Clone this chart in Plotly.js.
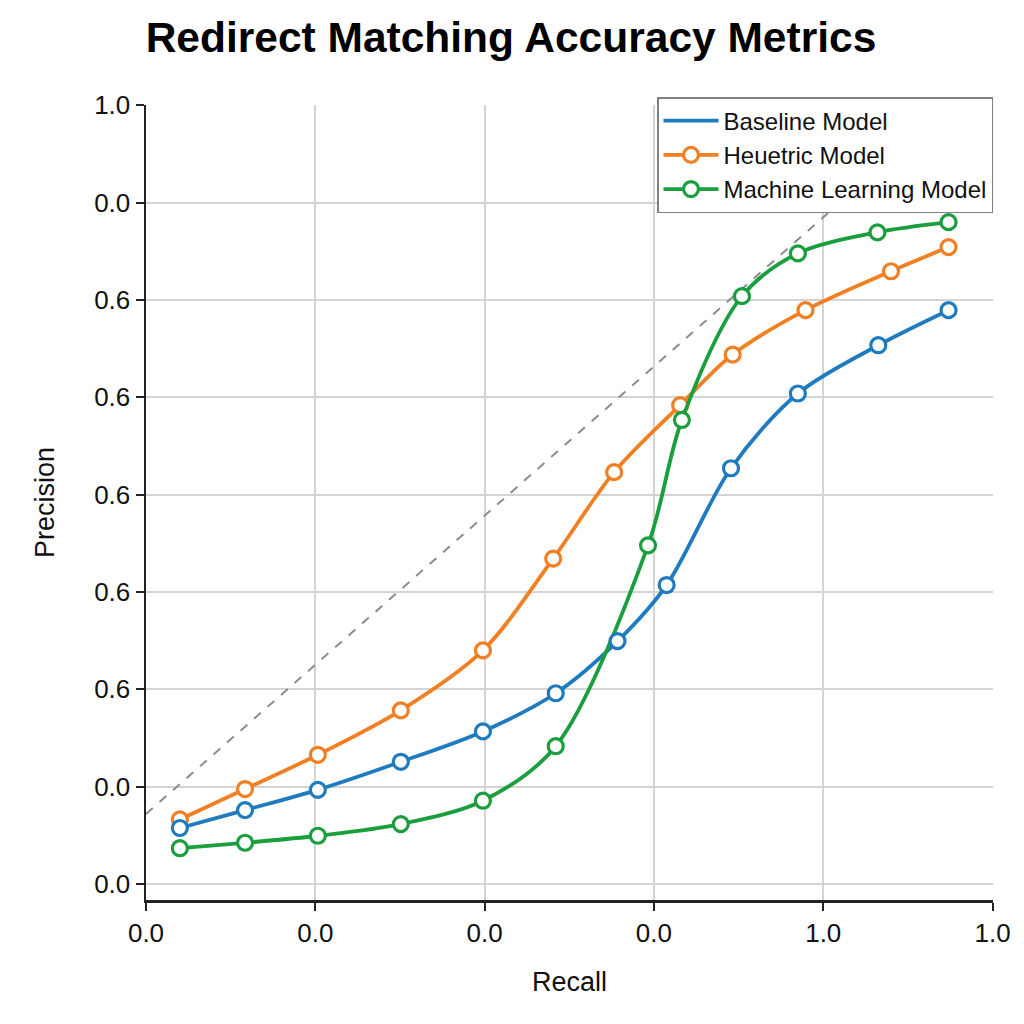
<!DOCTYPE html>
<html>
<head>
<meta charset="utf-8">
<script src="https://cdn.plot.ly/plotly-3.0.1.min.js"></script>
<style>
  html, body { margin: 0; padding: 0; background: #ffffff; }
  #chart { width: 1024px; height: 1024px; }
</style>
</head>
<body>
<div id="chart"></div>
<script>
// Precision / recall points per model
const baselineRecall    = [0.040, 0.117, 0.203, 0.301, 0.398, 0.484, 0.557, 0.615, 0.691, 0.770, 0.865, 0.948];
const baselinePrecision = [0.072, 0.095, 0.121, 0.157, 0.196, 0.245, 0.312, 0.384, 0.534, 0.630, 0.692, 0.737];

const heuristicRecall    = [0.040, 0.117, 0.203, 0.301, 0.398, 0.481, 0.553, 0.631, 0.693, 0.779, 0.880, 0.948];
const heuristicPrecision = [0.083, 0.122, 0.166, 0.223, 0.300, 0.418, 0.529, 0.615, 0.680, 0.737, 0.787, 0.818];

const mlRecall    = [0.040, 0.117, 0.203, 0.301, 0.398, 0.484, 0.593, 0.633, 0.704, 0.770, 0.864, 0.948];
const mlPrecision = [0.046, 0.053, 0.062, 0.077, 0.107, 0.177, 0.435, 0.596, 0.755, 0.810, 0.837, 0.850];

// Dashed reference diagonal
const refRecall    = [0.0, 0.95];
const refPrecision = [0.09, 1.0];

// Tick positions and their printed labels
const xTickVals  = [0.0, 0.2, 0.4, 0.6, 0.8, 1.0];
const xTickText  = ["0.0", "0.0", "0.0", "0.0", "1.0", "1.0"];
const yTickVals  = [0.0, 0.125, 0.25, 0.375, 0.5, 0.625, 0.75, 0.875, 1.0];
const yTickText  = ["0.0", "0.0", "0.6", "0.6", "0.6", "0.6", "0.6", "0.0", "1.0"];

const BLUE = "#1f7bbf";
const ORANGE = "#f27f22";
const GREEN = "#1b9e3e";
const FONT = "Liberation Sans, Arial, Helvetica, sans-serif";

const markerStyle = (c) => ({
  symbol: "circle",
  size: 15,
  color: "#ffffff",
  line: { color: c, width: 3.2 }
});

const traces = [
  {
    x: refRecall, y: refPrecision,
    mode: "lines",
    line: { color: "#8c8c8c", width: 2, dash: "dash" },
    showlegend: false, hoverinfo: "skip"
  },
  {
    x: baselineRecall, y: baselinePrecision,
    name: "Baseline Model",
    mode: "lines",
    line: { color: BLUE, width: 3.8, shape: "spline", smoothing: 0.9 }
  },
  {
    x: heuristicRecall, y: heuristicPrecision,
    name: "Heuetric Model",
    mode: "lines+markers",
    line: { color: ORANGE, width: 3.8, shape: "spline", smoothing: 0.9 },
    marker: markerStyle(ORANGE)
  },
  {
    x: mlRecall, y: mlPrecision,
    name: "Machine Learning Model",
    mode: "lines+markers",
    line: { color: GREEN, width: 3.8, shape: "spline", smoothing: 0.9 },
    marker: markerStyle(GREEN)
  },
  {
    x: baselineRecall, y: baselinePrecision,
    mode: "markers",
    marker: markerStyle(BLUE),
    showlegend: false
  }
];

const layout = {
  width: 1024,
  height: 1024,
  paper_bgcolor: "#ffffff",
  plot_bgcolor: "#ffffff",
  margin: { l: 146, r: 31, t: 105, b: 124 },
  font: { family: FONT, color: "#111111" },
  title: {
    text: "<b>Redirect Matching Accuracy Metrics</b>",
    font: { family: FONT, size: 42.5, color: "#000000" },
    x: 0.499, xref: "container", xanchor: "center",
    y: 0.964, yref: "container", yanchor: "middle"
  },
  xaxis: {
    range: [0, 1.0005],
    tickmode: "array",
    tickvals: xTickVals,
    ticktext: xTickText,
    tickfont: { size: 26, color: "#111111" },
    ticks: "outside", ticklen: 8, tickwidth: 2, tickcolor: "#222222",
    showline: true, linecolor: "#222222", linewidth: 2.5,
    showgrid: true, gridcolor: "#d4d4d4", gridwidth: 2,
    zeroline: false,
    title: { text: "Recall", font: { size: 27, color: "#111111" }, standoff: 26 }
  },
  yaxis: {
    range: [-0.0205, 1.0005],
    tickmode: "array",
    tickvals: yTickVals,
    ticktext: yTickText,
    tickfont: { size: 26, color: "#111111" },
    ticks: "outside", ticklen: 8, tickwidth: 2, tickcolor: "#222222",
    showline: true, linecolor: "#222222", linewidth: 2.5,
    showgrid: true, gridcolor: "#d4d4d4", gridwidth: 2,
    zeroline: false,
    title: { text: "Precision", font: { size: 27, color: "#111111" }, standoff: 32 }
  },
  legend: {
    x: 1.0, xanchor: "right",
    y: 1.01, yanchor: "top",
    bgcolor: "#ffffff",
    bordercolor: "#808080", borderwidth: 1.5,
    font: { size: 24, color: "#111111" },
    itemwidth: 55,
    tracegroupgap: 0
  },
  showlegend: true
};

Plotly.newPlot("chart", traces, layout, { displayModeBar: false, staticPlot: true });
</script>
</body>
</html>
